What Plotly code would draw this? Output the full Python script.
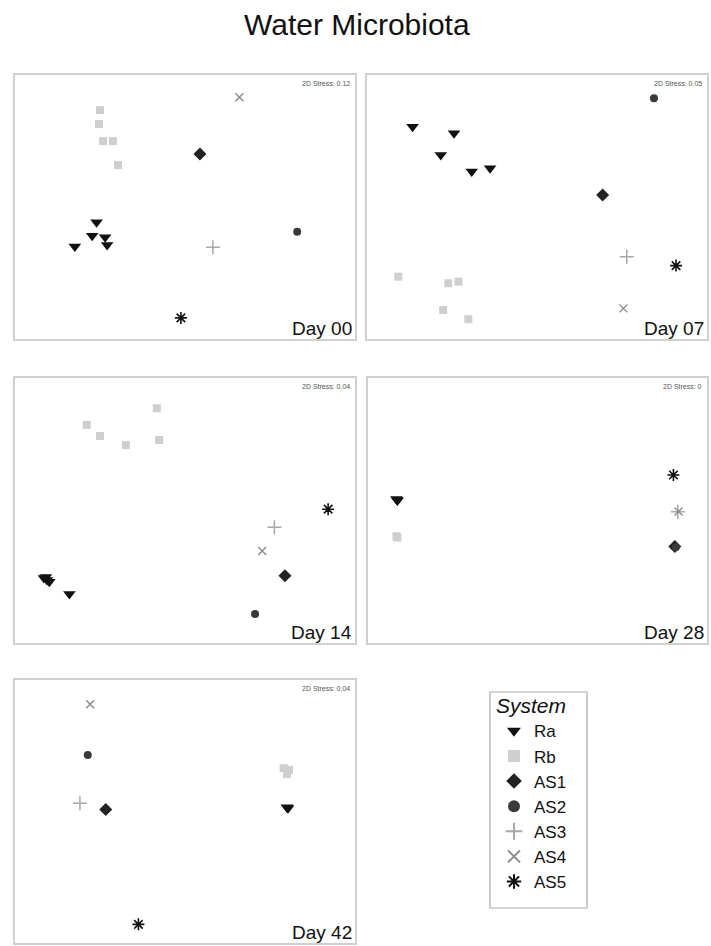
import plotly.graph_objects as go

# nMDS ordinations of water microbiota, one panel per sampling day
DAYS = ["Day 00", "Day 07", "Day 14", "Day 28", "Day 42"]
STRESS = ["2D Stress: 0.12", "2D Stress: 0.05", "2D Stress: 0.04", "2D Stress: 0", "2D Stress: 0.04"]
SYSTEMS = ["Ra", "Rb", "AS1", "AS2", "AS3", "AS4", "AS5"]

DAY00_SYSTEM = ["Ra", "Ra", "Ra", "Ra", "Ra", "Rb", "Rb", "Rb", "Rb", "Rb", "AS1", "AS2", "AS3", "AS4", "AS5"]
DAY00_X = [24.0, 22.7, 17.6, 26.5, 27.1, 25.0, 24.7, 25.9, 28.8, 30.3, 54.4, 83.0, 58.2, 66.0, 48.8]
DAY00_Y = [44.2, 39.1, 35.0, 38.5, 35.6, 86.7, 81.4, 75.0, 75.0, 65.9, 70.1, 40.6, 34.8, 91.6, 8.0]

DAY07_SYSTEM = ["Ra", "Ra", "Ra", "Ra", "Ra", "Rb", "Rb", "Rb", "Rb", "Rb", "AS1", "AS2", "AS3", "AS4", "AS5"]
DAY07_X = [13.4, 25.6, 21.7, 30.8, 36.2, 9.2, 23.9, 26.9, 22.4, 29.8, 69.3, 84.4, 76.4, 75.4, 90.9]
DAY07_Y = [80.4, 77.9, 69.7, 63.4, 64.7, 23.6, 21.1, 21.7, 11.0, 7.5, 54.5, 91.2, 31.2, 11.6, 27.8]

DAY14_SYSTEM = ["Ra", "Ra", "Ra", "Ra", "Ra", "Rb", "Rb", "Rb", "Rb", "Rb", "AS1", "AS2", "AS3", "AS4", "AS5"]
DAY14_X = [8.5, 9.4, 10.1, 9.1, 16.0, 21.1, 25.0, 32.6, 41.7, 42.4, 79.4, 70.6, 76.3, 72.7, 92.1]
DAY14_Y = [24.5, 23.8, 23.1, 24.9, 18.5, 82.3, 78.1, 74.7, 88.6, 76.6, 25.4, 10.9, 43.7, 34.7, 50.5]

DAY28_SYSTEM = ["Ra", "Ra", "Ra", "Rb", "Rb", "AS1", "AS2", "AS3", "AS4", "AS5"]
DAY28_X = [8.4, 8.7, 8.6, 8.4, 8.7, 90.5, 90.8, 91.4, 91.6, 90.1]
DAY28_Y = [54.3, 53.8, 54.0, 40.3, 39.8, 36.4, 36.1, 49.5, 49.6, 63.4]

DAY42_SYSTEM = ["Ra", "Ra", "Ra", "Rb", "Rb", "Rb", "AS1", "AS2", "AS3", "AS4", "AS5"]
DAY42_X = [80.0, 80.3, 80.1, 79.0, 80.6, 80.0, 26.7, 21.4, 19.1, 22.1, 36.3]
DAY42_Y = [51.6, 51.2, 51.4, 66.5, 65.8, 64.2, 50.8, 71.5, 53.1, 90.8, 7.1]

PANELS = [
    (DAY00_SYSTEM, DAY00_X, DAY00_Y),
    (DAY07_SYSTEM, DAY07_X, DAY07_Y),
    (DAY14_SYSTEM, DAY14_X, DAY14_Y),
    (DAY28_SYSTEM, DAY28_X, DAY28_Y),
    (DAY42_SYSTEM, DAY42_X, DAY42_Y),
]

# marker style for each system
STYLE = {
    "Ra": dict(symbol="triangle-down", size=11, color="#111111"),
    "Rb": dict(symbol="square", size=8, color="#cfcfcf"),
    "AS1": dict(symbol="diamond", size=10, color="#222222"),
    "AS2": dict(symbol="circle", size=8, color="#3a3a3a"),
    "AS3": dict(symbol="cross-thin-open", size=10, color="#a8a8a8", line=dict(width=1.5, color="#a8a8a8")),
    "AS4": dict(symbol="x-thin-open", size=8, color="#8a8a8a", line=dict(width=1.4, color="#8a8a8a")),
    "AS5": dict(symbol="asterisk-open", size=10, color="#111111", line=dict(width=1.6, color="#111111")),
}

W, H = 711, 946
# panel boxes in pixels: left, top, right, bottom
BOXES = [(15, 75, 355, 339), (367, 75, 707, 339),
         (15, 378, 355, 643), (368, 378, 707, 643),
         (15, 680, 355, 943)]
# frame drawn around the legend, in pixels
LEGEND_BOX = (490, 692, 587, 908)

fig = go.Figure()
layout = {}
annotations = []

for i, ((sys_list, xs, ys), box) in enumerate(zip(PANELS, BOXES)):
    n = "" if i == 0 else str(i + 1)
    xa, ya = "x" + n, "y" + n
    left, top, right, bottom = box
    layout["xaxis" + n] = dict(domain=[left / W, right / W], range=[0, 100], anchor=ya,
                               showgrid=False, zeroline=False, showticklabels=False, ticks="",
                               showline=True, mirror=True, linecolor="#d0d0d0", linewidth=1.5,
                               fixedrange=True)
    layout["yaxis" + n] = dict(domain=[1 - bottom / H, 1 - top / H], range=[0, 100], anchor=xa,
                               showgrid=False, zeroline=False, showticklabels=False, ticks="",
                               showline=True, mirror=True, linecolor="#d0d0d0", linewidth=1.5,
                               fixedrange=True)
    for s in SYSTEMS:
        px = [x for x, k in zip(xs, sys_list) if k == s]
        py = [y for y, k in zip(ys, sys_list) if k == s]
        fig.add_trace(go.Scatter(
            x=px, y=py, mode="markers", name=s, legendgroup=s, showlegend=(i == 0),
            marker=dict(STYLE[s]), xaxis=xa, yaxis=ya, hoverinfo="name",
        ))
    annotations.append(dict(text=STRESS[i], x=(right - 3) / W, y=1 - (top + 3) / H,
                            xref="paper", yref="paper", xanchor="right", yanchor="top",
                            showarrow=False, font=dict(size=7, color="#555555", family="Liberation Sans")))
    annotations.append(dict(text=DAYS[i], x=(right - 1) / W, y=1 - (bottom + 2) / H,
                            xref="paper", yref="paper", xanchor="right", yanchor="bottom",
                            showarrow=False, font=dict(size=19, color="#111111", family="Liberation Sans")))

annotations.append(dict(text="Water Microbiota", x=357 / W, y=1 - 25 / H, xref="paper", yref="paper",
                        xanchor="center", yanchor="middle", showarrow=False,
                        font=dict(size=30, color="#111111", family="Liberation Sans")))

lx0, ly0, lx1, ly1 = LEGEND_BOX
fig.add_shape(type="rect", xref="paper", yref="paper",
              x0=lx0 / W, x1=lx1 / W, y0=1 - ly1 / H, y1=1 - ly0 / H,
              line=dict(color="#aaaaaa", width=1.2), fillcolor="rgba(0,0,0,0)", layer="below")

fig.update_layout(
    width=W, height=H,
    margin=dict(l=0, r=0, t=0, b=0),
    paper_bgcolor="white", plot_bgcolor="white",
    annotations=annotations,
    legend=dict(
        title=dict(text="<i>System</i>", font=dict(size=21, color="#111111", family="Liberation Sans")),
        font=dict(size=17, color="#111111", family="Liberation Sans"),
        x=494 / W, y=1 - 686 / H, xanchor="left", yanchor="top",
        borderwidth=0, bgcolor="rgba(0,0,0,0)",
        tracegroupgap=0, itemsizing="constant", itemwidth=30,
    ),
    **layout,
)

fig.write_html("out.html")
